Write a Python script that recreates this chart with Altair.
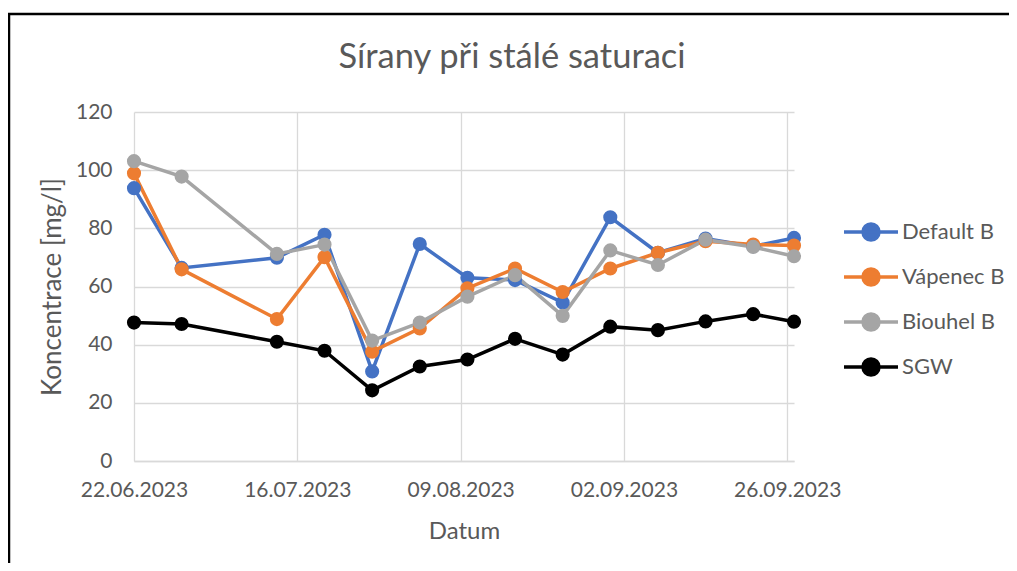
import altair as alt
import pandas as pd

dates = ["2023-06-22", "2023-06-29", "2023-07-13", "2023-07-20", "2023-07-27",
         "2023-08-03", "2023-08-10", "2023-08-17", "2023-08-24", "2023-08-31",
         "2023-09-07", "2023-09-14", "2023-09-21", "2023-09-27"]
default_b = [93.8, 66.4, 69.9, 77.8, 30.8, 74.6, 63.0, 62.2, 54.5, 83.8, 71.6, 76.5, 73.8, 76.7]
vapenec_b = [98.9, 65.9, 48.8, 70.1, 37.6, 45.6, 59.4, 66.2, 58.1, 66.2, 71.6, 75.6, 74.4, 74.1]
biouhel_b = [103.1, 97.8, 71.2, 74.4, 41.4, 47.6, 56.5, 63.9, 49.9, 72.4, 67.4, 76.1, 73.6, 70.4]
sgw = [47.6, 47.1, 41.0, 37.9, 24.3, 32.5, 34.9, 42.0, 36.6, 46.2, 45.0, 48.0, 50.5, 47.9]

series_names = ["Default B", "Vápenec B", "Biouhel B", "SGW"]
series_colors = ["#4472C4", "#ED7D31", "#A5A5A5", "#000000"]
x_tick_dates = [(2023, 6, 22), (2023, 7, 16), (2023, 8, 9), (2023, 9, 2), (2023, 9, 26)]
y_ticks = [0, 20, 40, 60, 80, 100, 120]

rows = []
for name, vals in zip(series_names, [default_b, vapenec_b, biouhel_b, sgw]):
    for d, v in zip(dates, vals):
        rows.append({"Datum": d, "Hodnota": v, "Serie": name})
df = pd.DataFrame(rows)

FONT = "Lato"
TXT = "#595959"
GRID = "#D9D9D9"

legend_path = "M-2.7,0H2.7M0.8,0A0.8,0.8,0,1,1,-0.8,0A0.8,0.8,0,1,1,0.8,0Z"

color = alt.Color(
    "Serie:N",
    scale=alt.Scale(domain=series_names, range=series_colors),
    sort=series_names,
    legend=alt.Legend(
        title=None, orient="none", legendX=725, legendY=108,
        symbolType=legend_path, symbolSize=400, symbolStrokeWidth=3.5,
        labelFont=FONT, labelFontSize=22, labelColor=TXT,
        labelOffset=19, rowPadding=15,
    ),
)

x = alt.X(
    "Datum:T",
    title="Datum",
    scale=alt.Scale(type="utc", domain=[alt.DateTime(year=2023, month=6, date=22, utc=True),
                                        alt.DateTime(year=2023, month=9, date=27, utc=True)], nice=False),
    axis=alt.Axis(
        values=[alt.DateTime(year=y, month=m, date=d, utc=True) for (y, m, d) in x_tick_dates],
        labelExpr="utcFormat(datum.value, '%d.%m.%Y')",
        labelFlush=False, labelOverlap=False,
        grid=True, gridColor=GRID, gridWidth=1.3,
        ticks=False, domain=True, domainColor=GRID, domainWidth=1.3,
        labelFont=FONT, labelFontSize=21, labelColor=TXT, labelPadding=18,
        titleFont=FONT, titleFontSize=24, titleColor=TXT, titleFontWeight="normal", titlePadding=19,
    ),
)
y = alt.Y(
    "Hodnota:Q",
    title="Koncentrace [mg/l]",
    scale=alt.Scale(domain=[0, 120], nice=False),
    axis=alt.Axis(
        values=y_ticks, grid=True, gridColor=GRID, gridWidth=1.3,
        ticks=False, domain=False,
        labelFont=FONT, labelFontSize=21, labelColor=TXT, labelPadding=22,
        titleFont=FONT, titleFontSize=26, titleColor=TXT, titleFontWeight="normal", titlePadding=10,
    ),
)

base = alt.Chart(df)
lines = base.mark_line(strokeWidth=3.5).encode(x=x, y=y, color=color, detail="Serie:N")
points = base.mark_point(filled=True, size=200, opacity=1, shape="circle").encode(x=x, y=y, color=color)

frame = alt.Chart(pd.DataFrame({"a": [0]})).mark_rect(
    fill=None, stroke="#000000", strokeWidth=2.5, clip=False
).encode(x=alt.value(-125), x2=alt.value(900), y=alt.value(-98), y2=alt.value(600))

chart = alt.layer(frame, lines, points).properties(
    width=660, height=349,
    title=alt.TitleParams(
        "Sírany při stálé saturaci", font=FONT, fontSize=34.5, color=TXT, fontWeight="normal",
        anchor="middle", frame="group", dx=48, offset=-63,
    ),
    autosize=alt.AutoSizeParams(type="none"),
    padding={"left": 126, "top": 104, "right": 215, "bottom": 102},
).configure_view(stroke=None)

chart.save("out.html", embed_options={"renderer": "svg", "actions": False})
